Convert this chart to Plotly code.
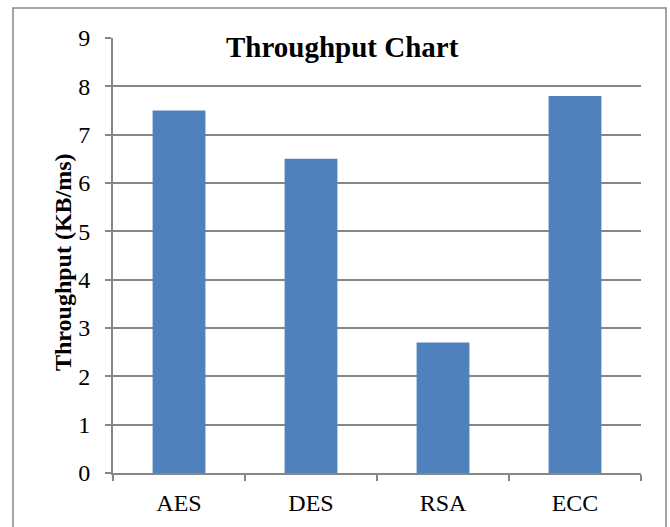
import plotly.graph_objects as go

categories = ["AES", "DES", "RSA", "ECC"]
throughput = [7.5, 6.5, 2.7, 7.8]
y_ticks = [0, 1, 2, 3, 4, 5, 6, 7, 8, 9]

SERIF = "Liberation Serif"
GRAY = "#868686"

L, R, T, B = 113, 29, 38, 54
W, H = 670, 527
pw, ph = W - L - R, H - T - B

def px_x(x):
    return (x - L) / pw

def px_y(y):
    return (H - B - y) / ph

fig = go.Figure(go.Bar(x=categories, y=throughput, marker_color="#4F81BD",
                       marker_line_width=0, width=0.4))

fig.update_layout(
    width=W, height=H,
    margin=dict(l=L, r=R, t=T, b=B),
    paper_bgcolor="white", plot_bgcolor="white",
    showlegend=False,
    font=dict(family=SERIF, color="black", size=24),
    xaxis=dict(showline=True, linecolor=GRAY, linewidth=2, ticks="outside",
               tickson="boundaries", ticklen=6, tickcolor=GRAY, tickwidth=2,
               showgrid=False, tickfont=dict(size=24, family=SERIF),
               ticklabelstandoff=7),
    yaxis=dict(range=[0, 9], tickvals=y_ticks, showline=True, linecolor=GRAY,
               linewidth=2, ticks="outside", ticklen=6, tickcolor=GRAY,
               tickwidth=2, showgrid=True, gridcolor=GRAY, gridwidth=2,
               zeroline=False, tickfont=dict(size=24, family=SERIF),
               ticklabelstandoff=10),
    annotations=[
        dict(text="<b>Throughput Chart</b>", xref="paper", yref="paper",
             x=px_x(342), y=px_y(47), xanchor="center", yanchor="middle",
             showarrow=False, font=dict(size=29, family=SERIF, color="black")),
        dict(text="<b>Throughput (KB/ms)</b>", xref="paper", yref="paper",
             x=px_x(63), y=px_y(262), xanchor="center", yanchor="middle",
             textangle=-90, showarrow=False,
             font=dict(size=24, family=SERIF, color="black")),
    ],
    shapes=[
        dict(type="rect", xref="paper", yref="paper",
             x0=px_x(13), x1=px_x(666), y0=px_y(540), y1=px_y(8),
             line=dict(color=GRAY, width=1.5), fillcolor="rgba(0,0,0,0)",
             layer="below"),
    ],
)

fig.write_html("out.html")
